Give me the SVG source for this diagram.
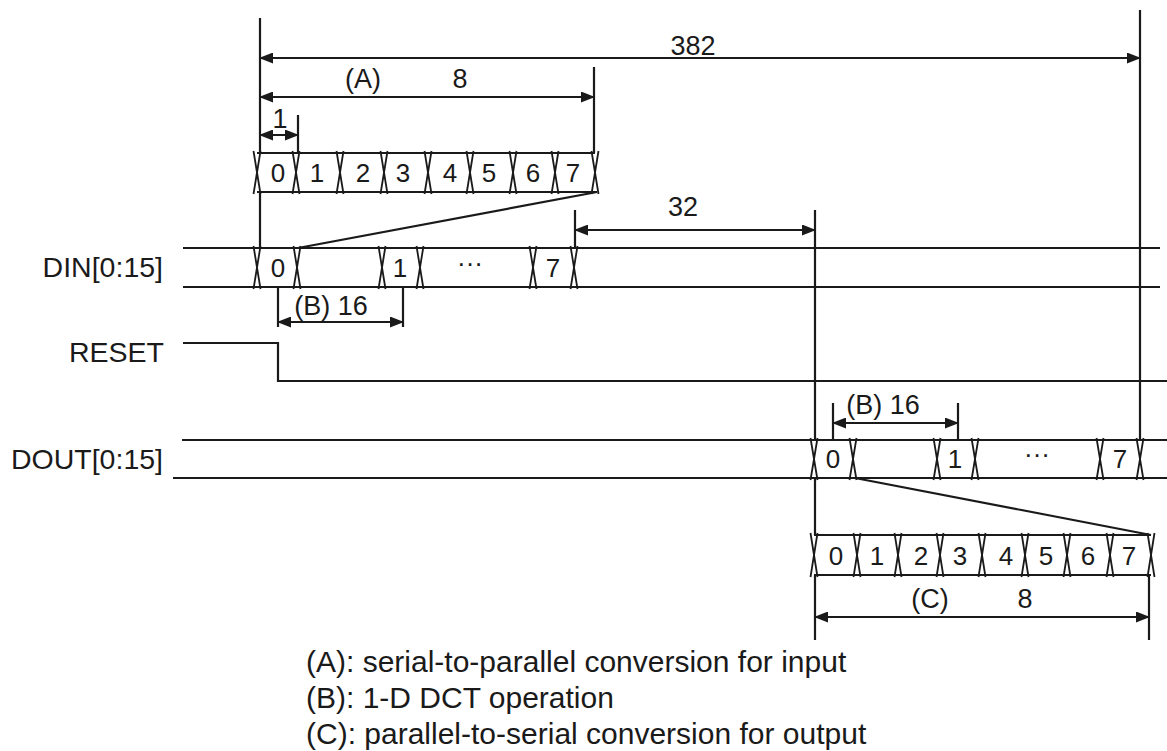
<svg xmlns="http://www.w3.org/2000/svg" width="1167" height="751" viewBox="0 0 1167 751">
<style>
.ln{stroke:#1a1a1a;stroke-width:2.2;fill:none}
.x{stroke:#1a1a1a;stroke-width:1.8;fill:none}
.dim{stroke:#1a1a1a;stroke-width:2.2;fill:none;marker-start:url(#ah);marker-end:url(#ah)}
text{font-family:"Liberation Sans",Arial,sans-serif;fill:#1a1a1a}
.lbl{font-size:28.5px;text-anchor:end}
.d{font-size:26px;text-anchor:middle}
.m{font-size:27px;text-anchor:middle}
.lg{font-size:30px}
</style>
<defs>
<marker id="ah" markerWidth="14" markerHeight="11" refX="13" refY="5.5" orient="auto-start-reverse" markerUnits="userSpaceOnUse">
<path d="M0,0 L14,5.5 L0,11 z" fill="#1a1a1a"/>
</marker>
</defs>

<g id="din">
<text class="lbl" x="163" y="277">DIN[0:15]</text>
<path class="ln" d="M183,248 H1160 M183,287 H1160"/>
<path class="x" d="M253.5,246 L260.5,289 M260.5,246 L253.5,289 M293.5,246 L300.5,289 M300.5,246 L293.5,289 M378.5,246 L385.5,289 M385.5,246 L378.5,289 M416.5,246 L423.5,289 M423.5,246 L416.5,289 M529.5,246 L536.5,289 M536.5,246 L529.5,289 M570.5,246 L577.5,289 M577.5,246 L570.5,289"/>
<text class="d" x="278" y="277">0</text>
<text class="d" x="400" y="277">1</text>
<text class="d" x="470" y="272">···</text>
<text class="d" x="553" y="277">7</text>
</g>

<g id="reset">
<text class="lbl" x="164" y="362">RESET</text>
<path class="ln" d="M183,343 H278 V381 H1167"/>
</g>

<g id="dout">
<text class="lbl" x="163" y="469">DOUT[0:15]</text>
<path class="ln" d="M182,440 H1167 M173,478 H1167"/>
<path class="x" d="M810.5,438 L817.5,480 M817.5,438 L810.5,480 M849.5,438 L856.5,480 M856.5,438 L849.5,480 M933.5,438 L940.5,480 M940.5,438 L933.5,480 M971.5,438 L978.5,480 M978.5,438 L971.5,480 M1096.5,438 L1103.5,480 M1103.5,438 L1096.5,480 M1136.5,438 L1143.5,480 M1143.5,438 L1136.5,480"/>
<text class="d" x="833" y="468">0</text>
<text class="d" x="955" y="468">1</text>
<text class="d" x="1037" y="463">···</text>
<text class="d" x="1120" y="468">7</text>
</g>

<g id="input-parallel">
<path class="ln" d="M257,153 H595 M257,192 H597"/>
<path class="x" d="M253.5,151 L260.5,194 M260.5,151 L253.5,194 M292.5,151 L299.5,194 M299.5,151 L292.5,194 M336.5,151 L343.5,194 M343.5,151 L336.5,194 M380.5,151 L387.5,194 M387.5,151 L380.5,194 M424.5,151 L431.5,194 M431.5,151 L424.5,194 M466.5,151 L473.5,194 M473.5,151 L466.5,194 M509.5,151 L516.5,194 M516.5,151 L509.5,194 M551.5,151 L558.5,194 M558.5,151 L551.5,194 M591.5,151 L598.5,194 M598.5,151 L591.5,194"/>
<text class="d" x="278" y="182">0</text>
<text class="d" x="317" y="182">1</text>
<text class="d" x="363" y="182">2</text>
<text class="d" x="403" y="182">3</text>
<text class="d" x="450" y="182">4</text>
<text class="d" x="489" y="182">5</text>
<text class="d" x="533" y="182">6</text>
<text class="d" x="573" y="182">7</text>
</g>

<g id="output-parallel">
<path class="ln" d="M814,535 H1151 M814,575 H1151"/>
<path class="x" d="M810.5,533 L817.5,577 M817.5,533 L810.5,577 M853.5,533 L860.5,577 M860.5,533 L853.5,577 M894.5,533 L901.5,577 M901.5,533 L894.5,577 M936.5,533 L943.5,577 M943.5,533 L936.5,577 M978.5,533 L985.5,577 M985.5,533 L978.5,577 M1021.5,533 L1028.5,577 M1028.5,533 L1021.5,577 M1063.5,533 L1070.5,577 M1070.5,533 L1063.5,577 M1106.5,533 L1113.5,577 M1113.5,533 L1106.5,577 M1147.5,533 L1154.5,577 M1154.5,533 L1147.5,577"/>
<text class="d" x="836" y="565">0</text>
<text class="d" x="877" y="565">1</text>
<text class="d" x="921" y="565">2</text>
<text class="d" x="960" y="565">3</text>
<text class="d" x="1006" y="565">4</text>
<text class="d" x="1046" y="565">5</text>
<text class="d" x="1088" y="565">6</text>
<text class="d" x="1129" y="565">7</text>
</g>

<g id="connectors">
<path class="ln" d="M260,18 V153 M260,192 V248 M298,115 V153 M594,67 V153 M575,210 V248 M815,210 V440 M815,478 V535 M815,575 V640 M1140,10 V440 M1149,575 V640 M278,287 V327 M403,287 V327 M833,403 V440 M958,403 V440"/>
<path class="ln" d="M597,192 L298,248 M855,478 L1151,535"/>
<path class="dim" d="M260,58 H1140"/>
<path class="dim" d="M260,97 H594"/>
<path class="dim" d="M260,135 H298"/>
<path class="dim" d="M575,230 H815"/>
<path class="dim" d="M278,322 H403"/>
<path class="dim" d="M833,423 H958"/>
<path class="dim" d="M815,617 H1149"/>
</g>

<g id="dimension-labels">
<text class="m" x="693" y="55">382</text>
<text class="m" x="363" y="88">(A)</text>
<text class="m" x="460" y="88">8</text>
<text class="m" x="280" y="128">1</text>
<text class="m" x="683" y="216">32</text>
<text class="m" x="331" y="315">(B) 16</text>
<text class="m" x="883" y="414">(B) 16</text>
<text class="m" x="930" y="608">(C)</text>
<text class="m" x="1025" y="608">8</text>
</g>

<g id="legend">
<text class="lg" x="306" y="672">(A): serial-to-parallel conversion for input</text>
<text class="lg" x="306" y="708">(B): 1-D DCT operation</text>
<text class="lg" x="306" y="744">(C): parallel-to-serial conversion for output</text>
</g>
</svg>
